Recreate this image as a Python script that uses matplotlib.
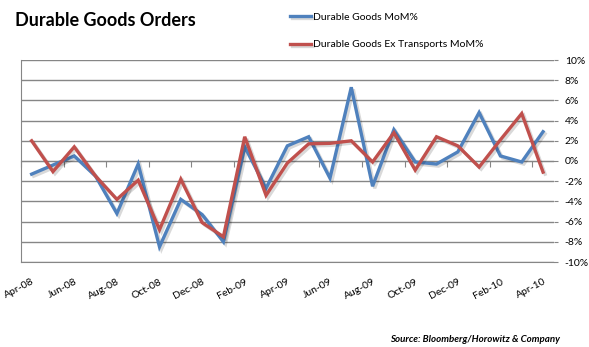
import matplotlib
matplotlib.use("Agg")
import matplotlib.pyplot as plt
import matplotlib.patheffects as pe
from matplotlib.ticker import FixedLocator, FuncFormatter

plt.rcParams["font.family"] = ["Lato", "DejaVu Sans"]

months = ["Apr-08", "May-08", "Jun-08", "Jul-08", "Aug-08", "Sep-08", "Oct-08",
          "Nov-08", "Dec-08", "Jan-09", "Feb-09", "Mar-09", "Apr-09", "May-09",
          "Jun-09", "Jul-09", "Aug-09", "Sep-09", "Oct-09", "Nov-09", "Dec-09",
          "Jan-10", "Feb-10", "Mar-10", "Apr-10"]
durable = [-1.3, -0.4, 0.5, -1.5, -5.2, -0.3, -8.5, -3.8, -5.3, -8.0, 1.4, -2.7,
           1.5, 2.4, -1.7, 7.3, -2.5, 3.1, -0.1, -0.3, 0.9, 4.8, 0.5, -0.1, 2.9]
ex_transport = [2.0, -1.05, 1.4, -1.5, -3.8, -1.9, -6.8, -1.8, -6.1, -7.5, 2.4, -3.4,
                -0.2, 1.7, 1.75, 2.0, -0.1, 2.8, -0.9, 2.4, 1.5, -0.6, 2.1, 4.7, -1.1]

blue = "#4F81BD"
red = "#C0504D"
grid_c = "#868686"

fig = plt.figure(figsize=(5.89, 3.47), dpi=100)
ax = fig.add_axes([21 / 589, 85 / 347, 532.7 / 589, 202 / 347])

x = list(range(len(months)))
shadow = [pe.SimpleLineShadow(offset=(1.5, -1.5), shadow_color="black", alpha=0.15),
          pe.Normal()]
ax.plot(x, durable, color=blue, lw=2.4, label="Durable Goods MoM%",
        path_effects=shadow, solid_joinstyle="miter", zorder=3)
ax.plot(x, ex_transport, color=red, lw=2.4, label="Durable Goods Ex Transports MoM%",
        path_effects=shadow, solid_joinstyle="miter", zorder=4)

ax.set_xlim(-0.5, len(months) - 0.5)
ax.set_ylim(-10, 10)

# right side percentage axis
ax.yaxis.tick_right()
ax.set_yticks(range(-10, 11, 2))
ax.yaxis.set_major_formatter(FuncFormatter(lambda v, p: f"{int(v)}%"))
ax.tick_params(axis="y", length=3, color=grid_c, labelsize=7.5, pad=5)
ax.grid(axis="y", color=grid_c, lw=1)
ax.set_axisbelow(True)

for s in ["top", "right"]:
    ax.spines[s].set_visible(False)
ax.spines["left"].set_color(grid_c)
ax.spines["bottom"].set_position(("data", 0))
ax.spines["bottom"].set_color(grid_c)

# tick marks between categories on the zero line
ax.xaxis.set_major_locator(FixedLocator([i - 0.5 for i in range(0, len(months) + 1, 2)]))
ax.tick_params(axis="x", length=4, color=grid_c, labelbottom=False)

# category labels at the bottom
sec = ax.secondary_xaxis(0.0)
sec.set_xticks(x[::2])
sec.set_xticklabels(months[::2], rotation=28, ha="right", rotation_mode="anchor")
sec.tick_params(length=0, labelsize=7.5, pad=11)
sec.spines["bottom"].set_color(grid_c)

fig.text(15 / 589, 1 - 20 / 347, "Durable Goods Orders", fontsize=13,
         fontweight="bold", va="center", ha="left")

fig.legend(loc="upper left", bbox_to_anchor=(281 / 589, 1 - 3 / 347), frameon=False,
           fontsize=7.5, handlelength=2.0, handletextpad=0.2, labelspacing=1.75)

fig.text(560 / 589, 1 - 339 / 347, "Source: Bloomberg/Horowitz & Company",
         fontsize=7, style="italic", fontweight="bold", ha="right", va="center")

fig.savefig("out.png", dpi=100)
